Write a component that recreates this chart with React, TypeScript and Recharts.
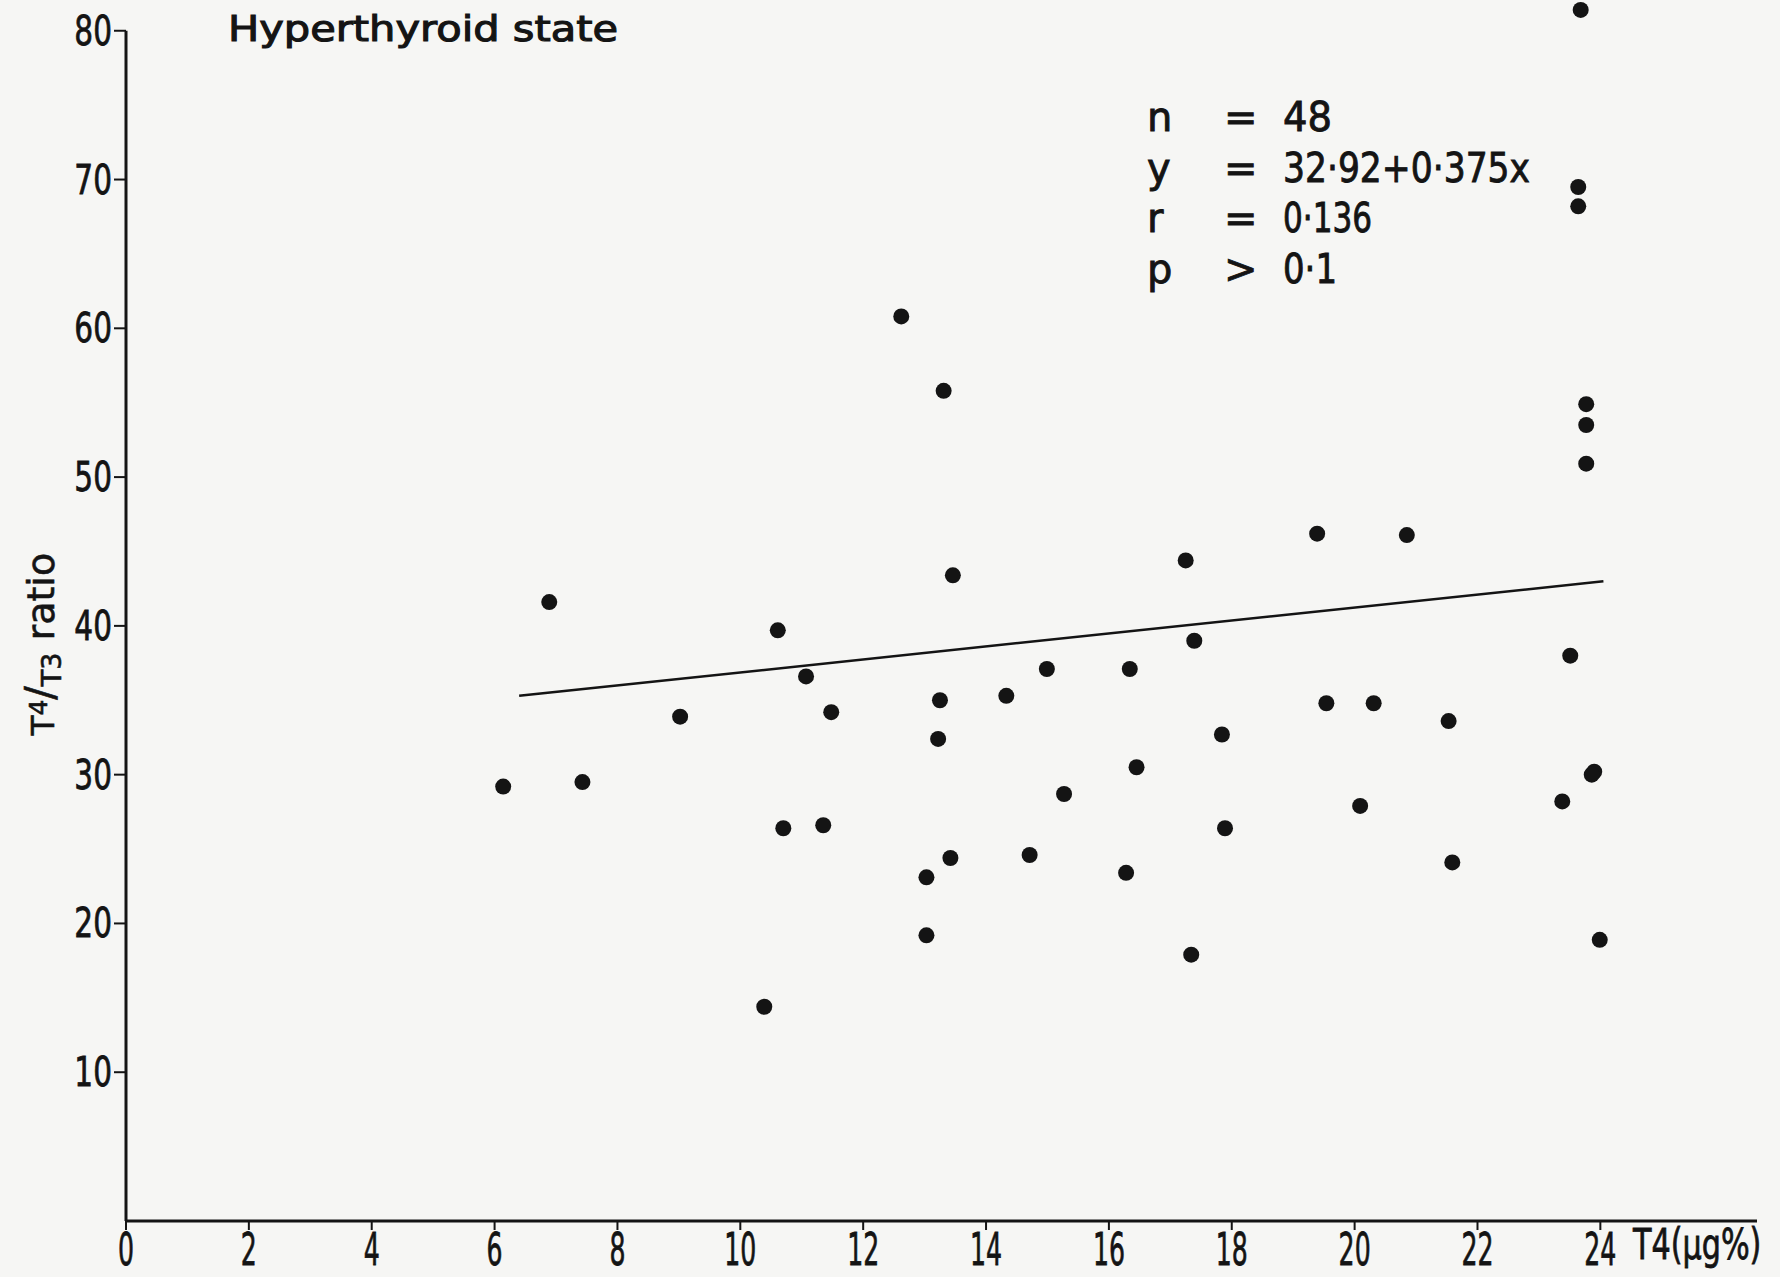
import { ScatterChart, Scatter, XAxis, YAxis, ReferenceLine } from 'recharts';

// T4 (µg%) and T4/T3 ratio, one entry per patient
const t4Values = [
  6.14, 6.89, 7.43, 9.02, 10.39, 10.61, 10.7, 11.07, 11.35, 11.48,
  12.62, 13.03, 13.03, 13.22, 13.25, 13.31, 13.42, 13.46, 14.33, 14.71,
  14.99, 15.27, 16.28, 16.34, 16.45, 17.25, 17.34, 17.39, 17.84, 17.89,
  19.39, 19.54, 20.09, 20.31, 20.85, 21.53, 21.59, 23.38, 23.51, 23.68,
  23.64, 23.64, 23.77, 23.77, 23.77, 23.9, 23.86, 23.99,
];
const ratioValues = [
  29.2, 41.6, 29.5, 33.9, 14.4, 39.7, 26.4, 36.6, 26.6, 34.2,
  60.8, 23.1, 19.2, 32.4, 35.0, 55.8, 24.4, 43.4, 35.3, 24.6,
  37.1, 28.7, 23.4, 37.1, 30.5, 44.4, 17.9, 39.0, 32.7, 26.4,
  46.2, 34.8, 27.9, 34.8, 46.1, 33.6, 24.1, 28.2, 38.0, 81.4,
  69.5, 68.2, 54.9, 53.5, 50.9, 30.2, 30.0, 18.9,
];

const xTicks = [0, 2, 4, 6, 8, 10, 12, 14, 16, 18, 20, 22, 24];
const yTicks = [10, 20, 30, 40, 50, 60, 70, 80];

// regression line ends as drawn
const fitX = [6.4, 24.05];
const fitY = [35.3, 43.0];

const statNames = ['n', 'y', 'r', 'p'];
const statSigns = ['=', '=', '=', '>'];
const statValues = ['48', '32·92+0·375x', '0·136', '0·1'];

const W = 1780;
const H = 1277;
const INK = '#141414';
const FONT = 'DejaVu Sans, sans-serif';
const statWidths = [49, 247, 89, 54];

const points = t4Values.map((x, i) => ({ x, y: ratioValues[i] }));

const XTick = (props: any) => {
  const { x, y, payload } = props;
  return (
    <text
      transform={`translate(${x},${y + 34}) scale(0.56,1)`}
      textAnchor="middle"
      fontSize={45}
      fontFamily={FONT}
      fill={INK}
      stroke={INK}
      strokeWidth={0.8}
    >
      {payload.value}
    </text>
  );
};

const YTick = (props: any) => {
  const { x, y, payload } = props;
  return (
    <text
      transform={`translate(${x},${y + 14}) scale(0.74,1)`}
      textAnchor="end"
      fontSize={40}
      fontFamily={FONT}
      fill={INK}
      stroke={INK}
      strokeWidth={0.8}
    >
      {payload.value}
    </text>
  );
};

const Dot = (props: any) => <circle cx={props.cx} cy={props.cy} r={8} fill={INK} />;

export default function App() {
  return (
    <div style={{ position: 'absolute', left: 0, top: 0, width: W, height: H, background: '#f6f6f4' }}>
      <ScatterChart width={W} height={H} margin={{ top: 1, right: 23, bottom: 0, left: 0 }}>
        <XAxis
          type="number"
          dataKey="x"
          domain={[0, 26.55]}
          ticks={xTicks}
          height={56}
          tickSize={9}
          tickMargin={1}
          axisLine={{ stroke: INK, strokeWidth: 3 }}
          tickLine={{ stroke: INK, strokeWidth: 2 }}
          tick={<XTick />}
          allowDataOverflow
        />
        <YAxis
          type="number"
          dataKey="y"
          domain={[0, 82]}
          ticks={yTicks}
          width={126}
          tickSize={12}
          tickMargin={2}
          axisLine={false}
          tickLine={{ stroke: INK, strokeWidth: 2 }}
          tick={<YTick />}
        />
        <ReferenceLine
          segment={[{ x: 0, y: 0 }, { x: 0, y: 80 }]}
          stroke={INK}
          strokeWidth={3}
        />
        <ReferenceLine
          segment={[{ x: fitX[0], y: fitY[0] }, { x: fitX[1], y: fitY[1] }]}
          stroke={INK}
          strokeWidth={2.5}
        />
        <Scatter data={points} shape={<Dot />} isAnimationActive={false} />
      </ScatterChart>

      <svg width={W} height={H} style={{ position: 'absolute', left: 0, top: 0, pointerEvents: 'none' }}>
        <text x={228} y={41} fontSize={36} fontFamily={FONT} fill={INK} stroke={INK} strokeWidth={1.1}
          textLength={390} lengthAdjust="spacingAndGlyphs">
          Hyperthyroid state
        </text>

        {statNames.map((name, i) => {
          const base = 131 + i * 50.5;
          return (
            <g key={name} fontFamily={FONT} fontSize={40} fill={INK} stroke={INK} strokeWidth={0.9}>
              <text x={1147} y={base}>{name}</text>
              <text x={1224} y={base}>{statSigns[i]}</text>
              <text x={1283} y={base} textLength={statWidths[i]} lengthAdjust="spacingAndGlyphs">
                {statValues[i]}
              </text>
            </g>
          );
        })}

        <text transform="translate(54,644) rotate(-90)" textAnchor="middle" fontFamily={FONT} fill={INK}
          stroke={INK} strokeWidth={0.6} fontSize={38}>
          <tspan fontSize={32}>T</tspan>
          <tspan fontSize={25} dy={-7}>4</tspan>
          <tspan fontSize={40} dy={7}>/</tspan>
          <tspan fontSize={27} dy={7}>T3</tspan>
          <tspan fontSize={38} dy={-7}> ratio</tspan>
        </text>

        <text transform="translate(1633,1259) scale(0.72,1)" fontSize={42} fontFamily={FONT} fill={INK}
          stroke={INK} strokeWidth={0.8}>
          T4(µg%)
        </text>
      </svg>
    </div>
  );
}
